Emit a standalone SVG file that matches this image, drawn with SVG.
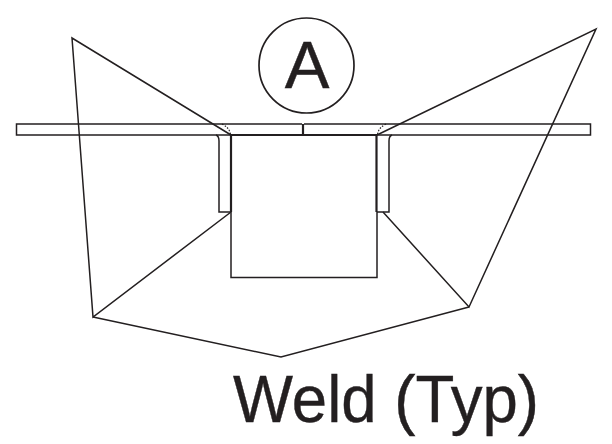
<svg xmlns="http://www.w3.org/2000/svg" width="612" height="444" viewBox="0 0 612 444">
<style>
.s{fill:none;stroke:#231f20;stroke-width:1.500}
.t{fill:none;stroke:#231f20;stroke-width:2.200}
.d{fill:none;stroke:#231f20;stroke-width:1.200;stroke-dasharray:1.500 1.500}
.l{font-family:"Liberation Sans",Arial,sans-serif;fill:#231f20;stroke:#231f20;stroke-width:.4}
</style>
<rect width="612" height="444" fill="#fff"/>
<g id="plate">
<path class="s" d="M302 124H16.500V135H302"/>
<path class="s" d="M304 124H590.500V135H304"/>
<path class="t" d="M303 124V135"/>
</g>
<g id="tube">
<path class="t" d="M231 135H377"/>
<path class="t" d="M231 135V212"/>
<path class="t" d="M376.500 135V212"/>
<path class="s" d="M231 212V277.500H377V212"/>
</g>
<g id="brackets">
<path class="s" d="M216 135Q219 136 219 141V212H231"/>
<path class="s" d="M392 135Q389 136 389 141V212H377"/>
</g>
<g id="welds">
<path class="d" d="M222 124Q230 128 230.500 135"/>
<path class="d" d="M386 124Q378 128 377.500 135"/>
</g>
<g id="badge">
<circle cx="306.500" cy="65.500" r="47.500" fill="#fff" stroke="#231f20" stroke-width="1.700"/>
<text class="l" x="307" y="88" font-size="67" text-anchor="middle">A</text>
</g>
<g id="connectors">
<path class="s" d="M231 135L72 38L93 317L231 212"/>
<path class="s" d="M377 135L596 29L469 307L383 212"/>
<path class="s" d="M93 317L281 357L469 307"/>
</g>
<g id="label">
<text class="l" x="233" y="422" font-size="66" textLength="306" lengthAdjust="spacingAndGlyphs">Weld (Typ)</text>
</g>
</svg>
